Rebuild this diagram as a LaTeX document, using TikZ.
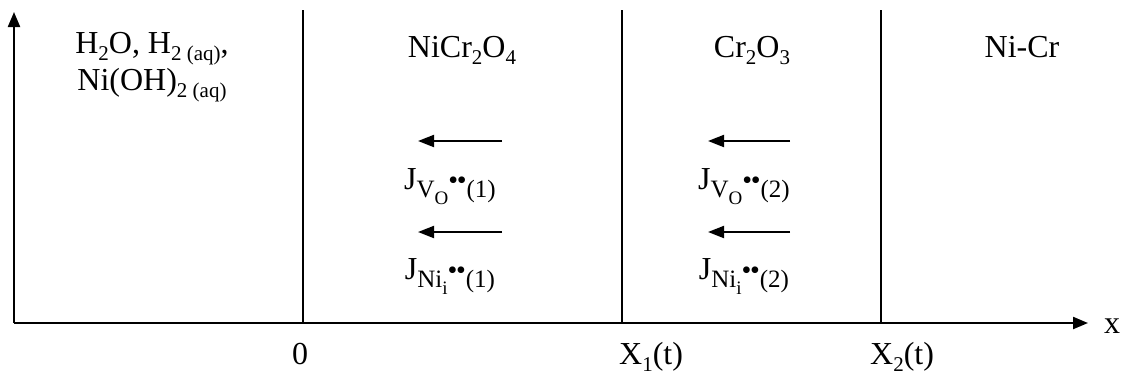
\documentclass[tikz,border=0pt]{standalone}
\usepackage{fontspec}
\setmainfont{Liberation Serif}
\usetikzlibrary{arrows.meta}
\newcommand{\mysub}[1]{\raisebox{-0.22em}{\fontsize{21}{21}\selectfont #1}}
\newcommand{\jsub}[1]{\raisebox{-0.25em}{\fontsize{25}{25}\selectfont #1}}
\newcommand{\myssub}[1]{\raisebox{-0.3em}{\fontsize{19}{19}\selectfont #1}}
\newcommand{\mysup}[1]{\raisebox{0.32em}{\fontsize{28}{28}\selectfont #1}}
\begin{document}
\begin{tikzpicture}[x=1pt,y=-1pt,
  every node/.style={font=\fontsize{32}{37}\selectfont, inner sep=0pt},
  axis/.style={line width=2.2pt,-{Triangle[length=15pt,width=12pt]}},
  wall/.style={line width=2pt},
  flux/.style={line width=2pt,-{Triangle[length=16pt,width=12pt]}}]
\useasboundingbox (0,0) rectangle (1123,376);
% axes
\coordinate (o) at (14,323);
\coordinate (ytop) at (14,12);
\coordinate (xend) at (1088,323);
\draw[axis] (o) -- (ytop);
\draw[axis] (o) -- (xend);
\node (xl) at (1112,326) {x};
% interface lines
\coordinate (i0t) at (303,10); \coordinate (i0b) at (303,323);
\coordinate (i1t) at (622,10); \coordinate (i1b) at (622,323);
\coordinate (i2t) at (881,10); \coordinate (i2b) at (881,323);
\draw[wall] (i0t) -- (i0b);
\draw[wall] (i1t) -- (i1b);
\draw[wall] (i2t) -- (i2b);
% region labels
\node[align=center] (sol) at (152,67) {H\mysub{2}O, H\mysub{2 (aq)},\\Ni(OH)\mysub{2 (aq)}};
\node[anchor=base] (spinel) at (462,57) {NiCr\mysub{2}O\mysub{4}};
\node[anchor=base] (chromia) at (752,57) {Cr\mysub{2}O\mysub{3}};
\node[anchor=base] (alloy) at (1022,57) {Ni-Cr};
% fluxes
\coordinate (a1s) at (502,141); \coordinate (a1e) at (418,141);
\coordinate (a2s) at (502,232); \coordinate (a2e) at (418,232);
\coordinate (a3s) at (790,141); \coordinate (a3e) at (708,141);
\coordinate (a4s) at (790,232); \coordinate (a4e) at (708,232);
\draw[flux] (a1s) -- (a1e);
\draw[flux] (a2s) -- (a2e);
\draw[flux] (a3s) -- (a3e);
\draw[flux] (a4s) -- (a4e);
\node[anchor=base] (jv1) at (450,189) {J\jsub{V\myssub{O}\mysup{\textbullet\kern-0.05em\textbullet}(1)}};
\node[anchor=base] (jn1) at (450,279) {J\jsub{Ni\myssub{i}\mysup{\textbullet\kern-0.05em\textbullet}(1)}};
\node[anchor=base] (jv2) at (744,189) {J\jsub{V\myssub{O}\mysup{\textbullet\kern-0.05em\textbullet}(2)}};
\node[anchor=base] (jn2) at (744,279) {J\jsub{Ni\myssub{i}\mysup{\textbullet\kern-0.05em\textbullet}(2)}};
% position labels
\node[anchor=base] (p0) at (300,364) {0};
\node[anchor=base west] (p1) at (619,364) {X\mysub{1}(t)};
\node[anchor=base west] (p2) at (870,364) {X\mysub{2}(t)};
\end{tikzpicture}
\end{document}
